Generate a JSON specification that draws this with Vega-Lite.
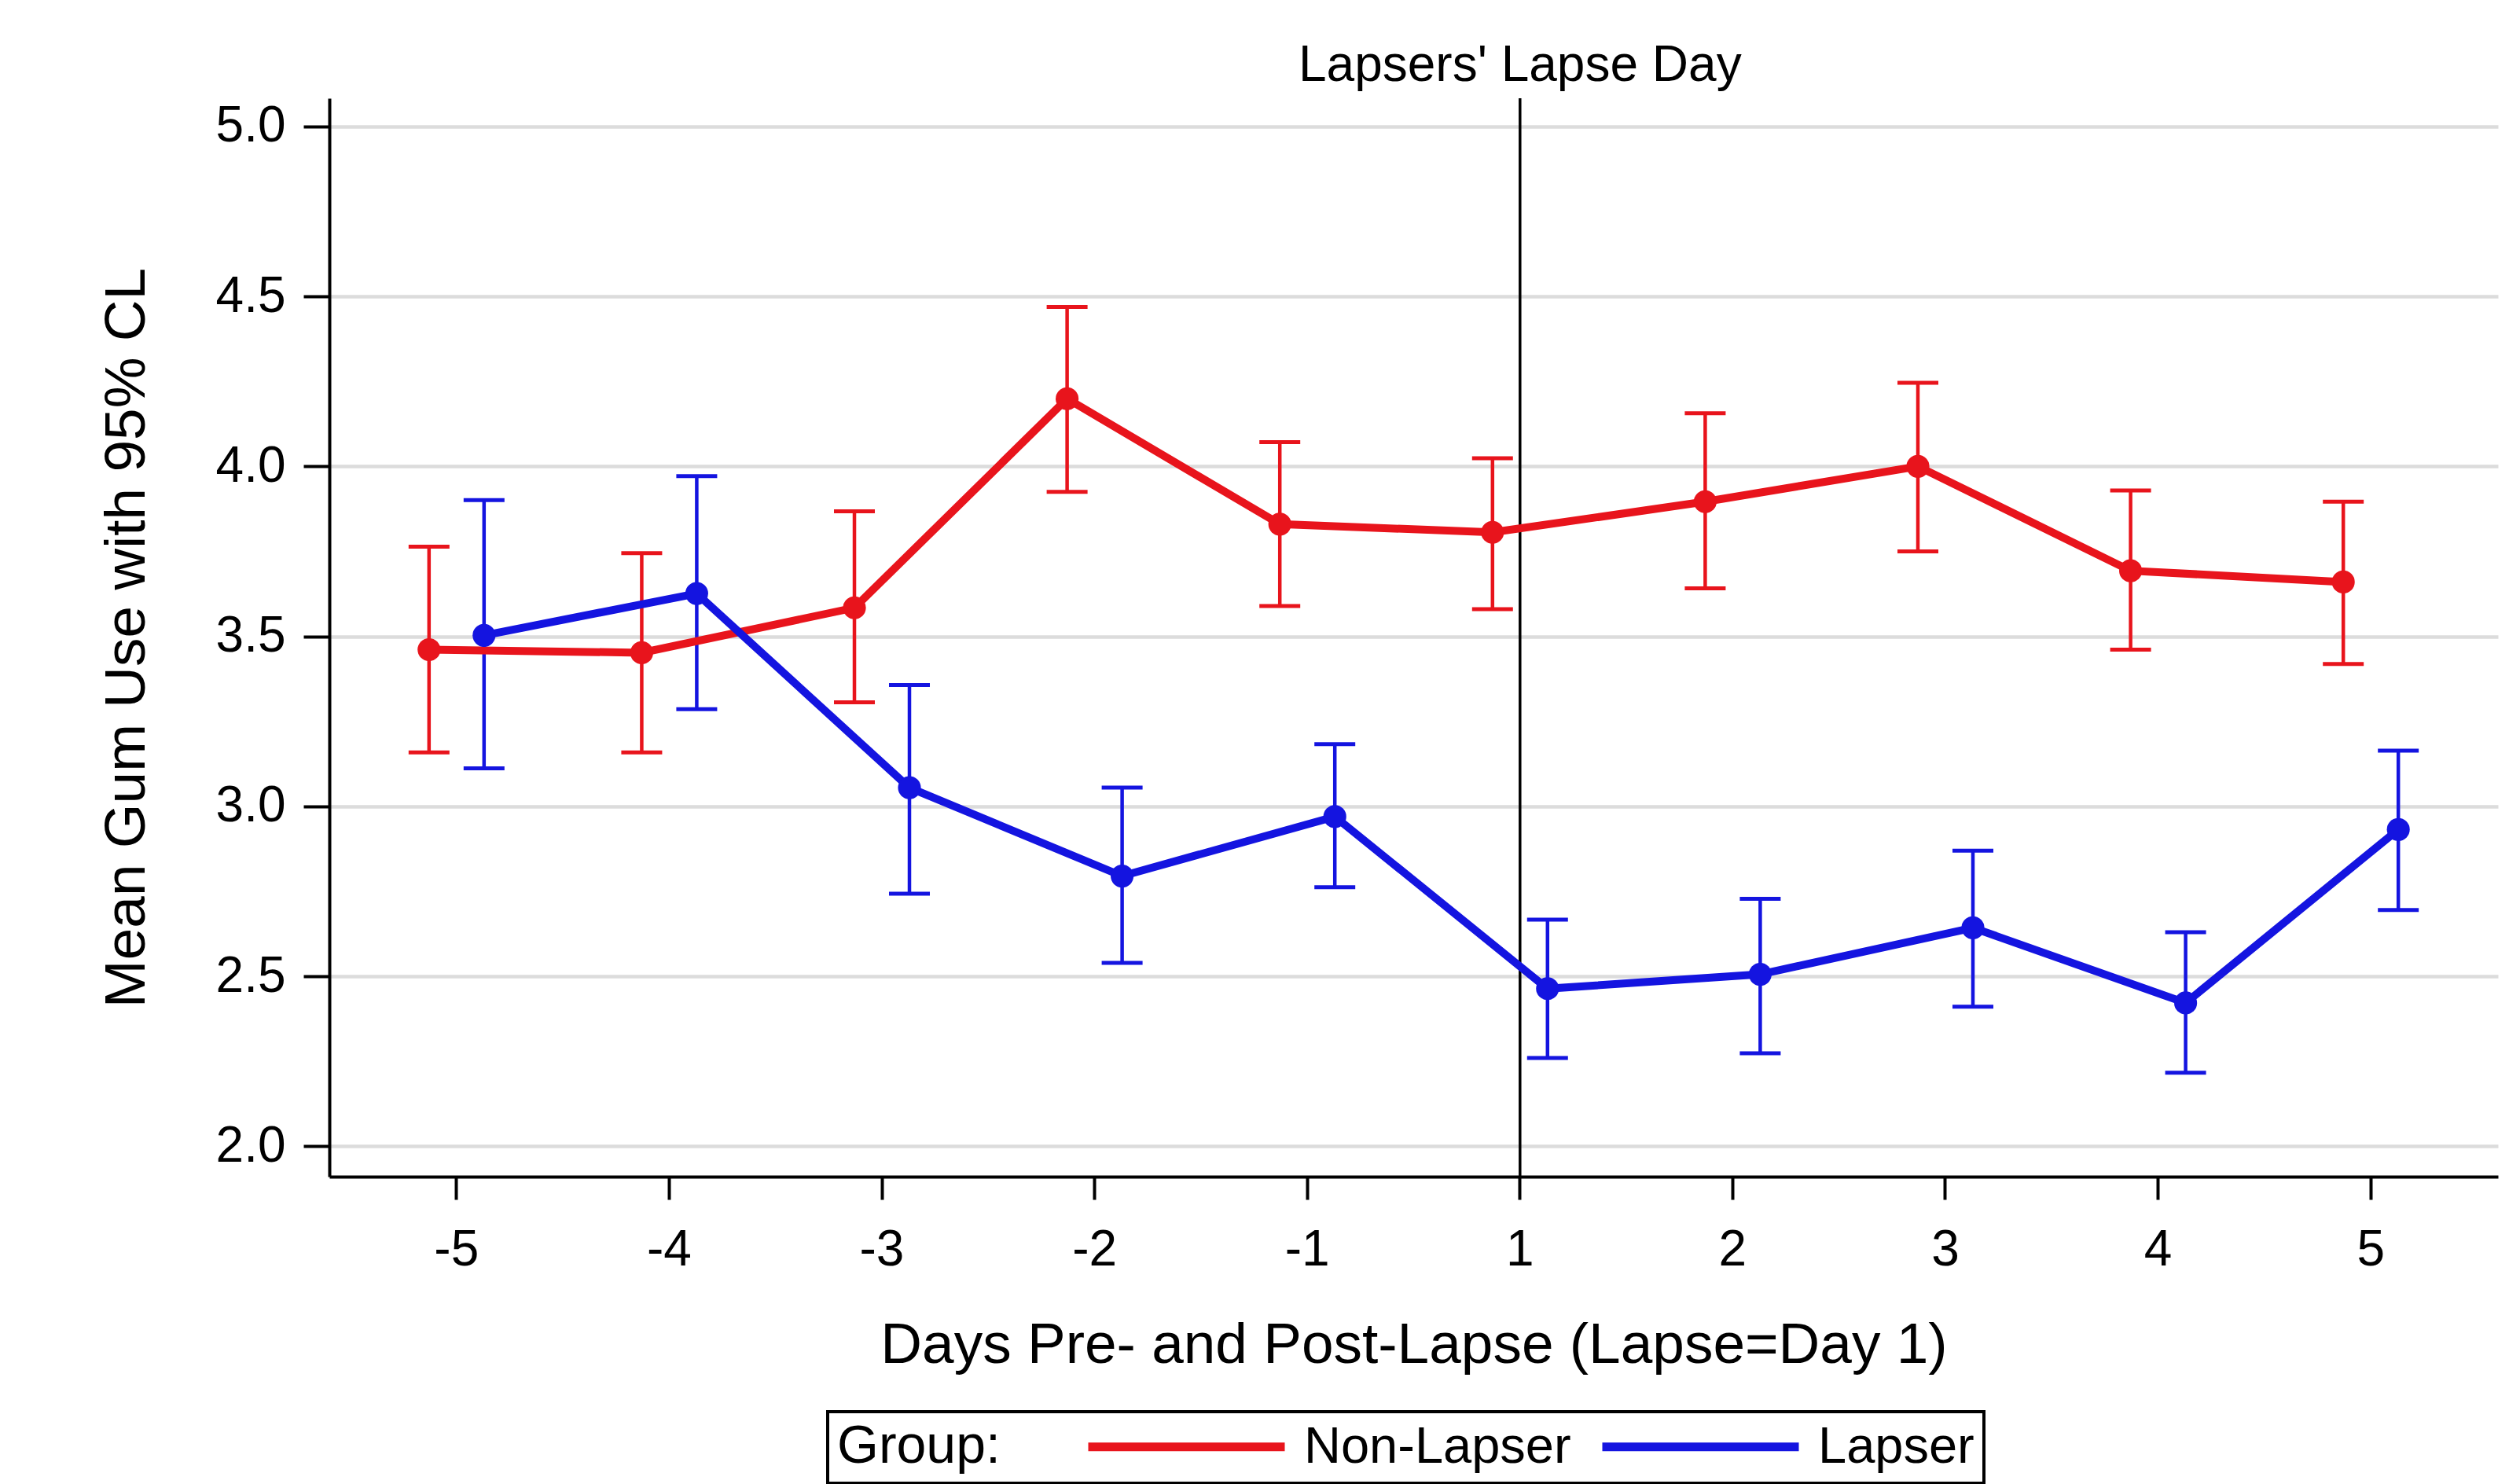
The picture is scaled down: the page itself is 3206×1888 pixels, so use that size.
{
  "$schema": "https://vega.github.io/schema/vega-lite/v6.json",
  "width": 2759,
  "height": 1372,
  "autosize": {"type": "none"},
  "padding": {"left": 419, "top": 125, "right": 28, "bottom": 391},
  "background": "white",
  "config": {
    "font": "Liberation Sans",
    "view": {"stroke": null},
    "legend": {"strokeWidth": 4},
    "axis": {
      "domainColor": "black",
      "domainWidth": 4,
      "tickColor": "black",
      "tickWidth": 4,
      "labelColor": "black",
      "titleColor": "black",
      "labelFont": "Liberation Sans",
      "titleFont": "Liberation Sans",
      "titleFontWeight": "normal",
      "labelFontSize": 64,
      "titleFontSize": 73
    }
  },
  "resolve": {"legend": {"color": "independent"}},
  "datasets": {
    "gum": [
      {"day": -5, "group": "Non-Lapser", "mean": 3.461, "lo": 3.159, "hi": 3.764},
      {"day": -4, "group": "Non-Lapser", "mean": 3.452, "lo": 3.159, "hi": 3.745},
      {"day": -3, "group": "Non-Lapser", "mean": 3.584, "lo": 3.306, "hi": 3.868},
      {"day": -2, "group": "Non-Lapser", "mean": 4.199, "lo": 3.925, "hi": 4.469},
      {"day": -1, "group": "Non-Lapser", "mean": 3.830, "lo": 3.589, "hi": 4.071},
      {"day": 1, "group": "Non-Lapser", "mean": 3.806, "lo": 3.580, "hi": 4.024},
      {"day": 2, "group": "Non-Lapser", "mean": 3.896, "lo": 3.641, "hi": 4.156},
      {"day": 3, "group": "Non-Lapser", "mean": 4.000, "lo": 3.750, "hi": 4.246},
      {"day": 4, "group": "Non-Lapser", "mean": 3.693, "lo": 3.461, "hi": 3.929},
      {"day": 5, "group": "Non-Lapser", "mean": 3.660, "lo": 3.419, "hi": 3.896},
      {"day": -5, "group": "Lapser", "mean": 3.503, "lo": 3.112, "hi": 3.901},
      {"day": -4, "group": "Lapser", "mean": 3.626, "lo": 3.286, "hi": 3.971},
      {"day": -3, "group": "Lapser", "mean": 3.055, "lo": 2.743, "hi": 3.357},
      {"day": -2, "group": "Lapser", "mean": 2.795, "lo": 2.540, "hi": 3.055},
      {"day": -1, "group": "Lapser", "mean": 2.970, "lo": 2.762, "hi": 3.183},
      {"day": 1, "group": "Lapser", "mean": 2.464, "lo": 2.260, "hi": 2.667},
      {"day": 2, "group": "Lapser", "mean": 2.506, "lo": 2.274, "hi": 2.728},
      {"day": 3, "group": "Lapser", "mean": 2.643, "lo": 2.411, "hi": 2.870},
      {"day": 4, "group": "Lapser", "mean": 2.422, "lo": 2.217, "hi": 2.630},
      {"day": 5, "group": "Lapser", "mean": 2.932, "lo": 2.695, "hi": 3.164}
    ],
    "lapse": [{"day": 1, "label": "Lapsers' Lapse Day"}]
  },
  "layer": [
    {
      "data": {"name": "lapse"},
      "mark": {"type": "rule", "color": "black", "strokeWidth": 3.5},
      "encoding": {
        "x": {
          "field": "day", "type": "ordinal",
          "scale": {"type": "band", "paddingInner": 0, "paddingOuter": 0.098},
          "title": "Days Pre- and Post-Lapse (Lapse=Day 1)",
          "axis": {"labelAngle": 0, "grid": false, "tickSize": 29, "labelPadding": 32, "titlePadding": 53}
        }
      }
    },
    {
      "data": {"name": "lapse"},
      "mark": {"type": "text", "fontSize": 64, "font": "Liberation Sans", "color": "black", "baseline": "alphabetic", "align": "center", "dy": -22, "clip": false},
      "encoding": {
        "x": {"field": "day", "type": "ordinal"},
        "y": {"datum": 5.0826, "type": "quantitative"},
        "text": {"field": "label"}
      }
    },
    {
      "data": {"name": "gum"},
      "mark": {"type": "rule", "strokeWidth": 4.5},
      "encoding": {
        "x": {"field": "day", "type": "ordinal"},
        "xOffset": {"field": "group", "type": "nominal", "scale": {"domain": ["Non-Lapser", "Lapser"], "paddingInner": 0, "paddingOuter": 0.933}},
        "y": {
          "field": "lo", "type": "quantitative",
          "scale": {"domain": [1.911, 5.0826], "nice": false, "zero": false},
          "title": "Mean Gum Use with 95% CL",
          "axis": {"values": [2, 2.5, 3, 3.5, 4, 4.5, 5], "format": ".1f", "tickSize": 33, "labelPadding": 23, "titlePadding": 76, "gridColor": "#dcdcdc", "gridWidth": 4.5, "grid": true}
        },
        "y2": {"field": "hi"},
        "color": {"field": "group", "type": "nominal", "scale": {"domain": ["Non-Lapser", "Lapser"], "range": ["#e8141c", "#1414e0"]}, "legend": null}
      }
    },
    {
      "data": {"name": "gum"},
      "mark": {"type": "tick", "size": 52, "thickness": 5, "orient": "horizontal", "opacity": 1},
      "encoding": {
        "x": {"field": "day", "type": "ordinal"},
        "xOffset": {"field": "group", "type": "nominal"},
        "y": {"field": "lo", "type": "quantitative"},
        "color": {"field": "group", "type": "nominal", "legend": null}
      }
    },
    {
      "data": {"name": "gum"},
      "mark": {"type": "tick", "size": 52, "thickness": 5, "orient": "horizontal", "opacity": 1},
      "encoding": {
        "x": {"field": "day", "type": "ordinal"},
        "xOffset": {"field": "group", "type": "nominal"},
        "y": {"field": "hi", "type": "quantitative"},
        "color": {"field": "group", "type": "nominal", "legend": null}
      }
    },
    {
      "data": {"name": "gum"},
      "mark": {"type": "line", "strokeWidth": 10},
      "encoding": {
        "x": {"field": "day", "type": "ordinal"},
        "xOffset": {"field": "group", "type": "nominal"},
        "y": {"field": "mean", "type": "quantitative"},
        "color": {
          "field": "group", "type": "nominal",
          "legend": {
            "orient": "none", "legendX": 634, "legendY": 1671, "direction": "horizontal",
            "title": "Group:", "titleOrient": "left", "titleFontSize": 68, "titleFont": "Liberation Sans",
            "titleFontWeight": "normal", "titleColor": "black", "titleLimit": 1000, "titlePadding": 79,
            "labelFontSize": 65, "labelFont": "Liberation Sans", "labelColor": "black", "labelLimit": 1000,
            "labelOffset": 242, "symbolType": "M0,0H10", "symbolSize": 2500, "symbolStrokeWidth": 11,
            "columnPadding": 7, "padding": 12, "strokeColor": "black"
          }
        }
      }
    },
    {
      "data": {"name": "gum"},
      "mark": {"type": "point", "filled": true, "size": 850, "opacity": 1},
      "encoding": {
        "x": {"field": "day", "type": "ordinal"},
        "xOffset": {"field": "group", "type": "nominal"},
        "y": {"field": "mean", "type": "quantitative"},
        "color": {"field": "group", "type": "nominal", "legend": null}
      }
    }
  ]
}
